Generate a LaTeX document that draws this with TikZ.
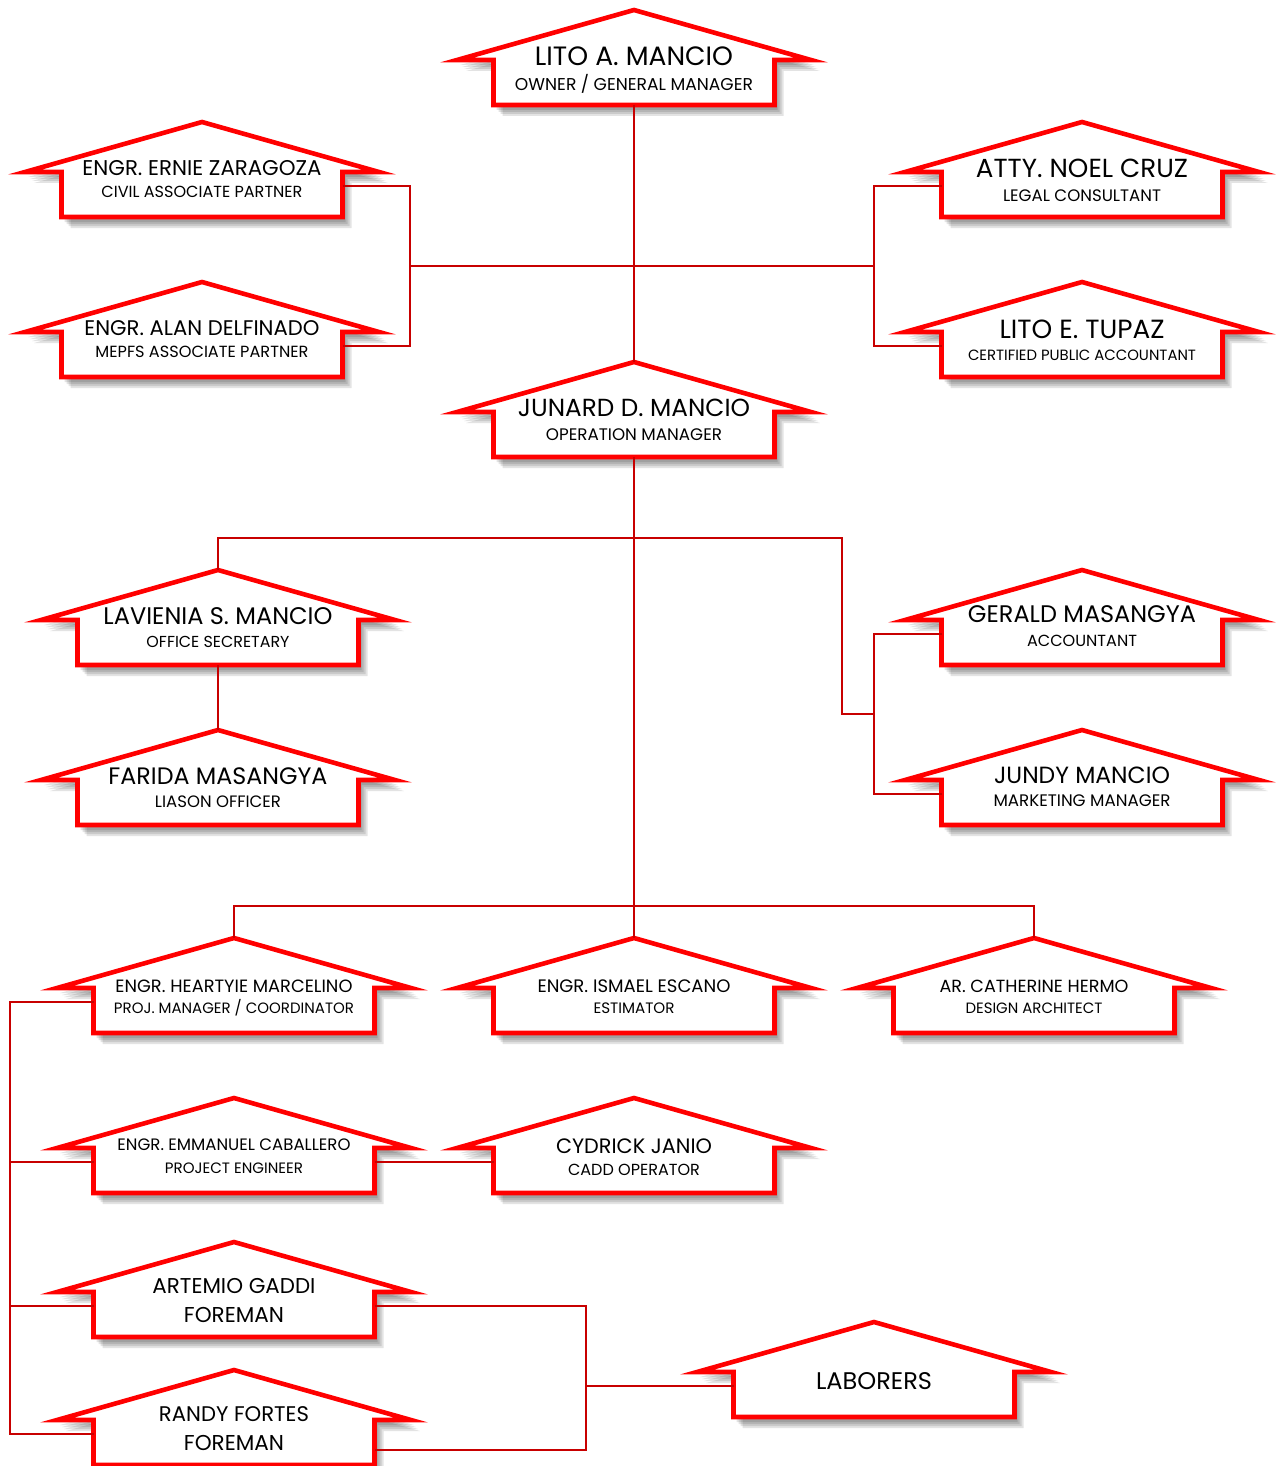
\documentclass[tikz,border=0pt]{standalone}
\usepackage{graphicx}
\usepackage{fontspec}
\setmainfont{Poppins}
\usepackage{tikz}
\definecolor{roofred}{RGB}{255,0,0}
\definecolor{linkred}{RGB}{200,0,0}
\tikzset{
    house/.style={draw=roofred,line width=4.6pt,fill=white,line join=miter,miter limit=12},
    link/.style={draw=linkred,line width=2.4pt},
    lbl/.style={inner sep=0pt,text=black}
}
% id, apex x, apex y
\newcommand\house[3]{
    \foreach \s in {1,2,3,4}
        \fill[black,opacity=0.11] (#2+1+2*\s,#3+3+2*\s) ++(-177,50) -- ++(177,-50) -- ++(177,50)
            -- ++(-36.5,0) -- ++(0,45) -- ++(-281,0) -- ++(0,-45) -- cycle;
    \draw[house] (#2,#3) ++(-177,50) -- ++(177,-50) -- ++(177,50)
        -- ++(-36.5,0) -- ++(0,45) -- ++(-281,0) -- ++(0,-45) -- cycle;
    \coordinate (#1-top) at (#2,#3);
    \coordinate (#1-bot) at (#2,#3+95);
    \coordinate (#1-l)   at (#2-140.5,#3+64);
    \coordinate (#1-r)   at (#2+140.5,#3+64);
}
\newcommand\sized[2]{\resizebox{#1pt}{!}{#2}}

\begin{document}
\begin{tikzpicture}[x=1pt,y=-1pt]
            \useasboundingbox (0,0) rectangle (1283,1466);
            % houses
            \house{lito}{634}{10}
            \house{ernie}{202}{122}
            \house{alan}{202}{282}
            \house{noel}{1082}{122}
            \house{tupaz}{1082}{282}
            \house{junard}{634}{362}
            \house{lavienia}{218}{570}
            \house{farida}{218}{730}
            \house{gerald}{1082}{570}
            \house{jundy}{1082}{730}
            \house{heartyie}{234}{938}
            \house{ismael}{634}{938}
            \house{catherine}{1034}{938}
            \house{emmanuel}{234}{1098}
            \house{cydrick}{634}{1098}
            \house{artemio}{234}{1242}
            \house{randy}{234}{1370}
            \house{laborers}{874}{1322}
            % names and titles
            \node[lbl] (lito)       at (634,56)   {\sized{198}{LITO A. MANCIO}};
            \node[lbl] (lito-t)     at (634,84)   {\sized{238}{OWNER / GENERAL MANAGER}};
            \node[lbl] (ernie)      at (202,168)  {\sized{239}{ENGR. ERNIE ZARAGOZA}};
            \node[lbl] (ernie-t)    at (202,192)  {\sized{201}{CIVIL ASSOCIATE PARTNER}};
            \node[lbl] (alan)       at (202,328)  {\sized{235}{ENGR. ALAN DELFINADO}};
            \node[lbl] (alan-t)     at (202,352)  {\sized{213}{MEPFS ASSOCIATE PARTNER}};
            \node[lbl] (noel)       at (1082,168) {\sized{212}{ATTY. NOEL CRUZ}};
            \node[lbl] (noel-t)     at (1082,196) {\sized{158}{LEGAL CONSULTANT}};
            \node[lbl] (tupaz)      at (1082,329) {\sized{165}{LITO E. TUPAZ}};
            \node[lbl] (tupaz-t)    at (1082,355) {\sized{228}{CERTIFIED PUBLIC ACCOUNTANT}};
            \node[lbl] (junard)     at (634,408)  {\sized{232}{JUNARD D. MANCIO}};
            \node[lbl] (junard-t)   at (634,435)  {\sized{176}{OPERATION MANAGER}};
            \node[lbl] (lavienia)   at (218,616)  {\sized{229}{LAVIENIA S. MANCIO}};
            \node[lbl] (lavienia-t) at (218,642)  {\sized{143}{OFFICE SECRETARY}};
            \node[lbl] (farida)     at (218,776)  {\sized{219}{FARIDA MASANGYA}};
            \node[lbl] (farida-t)   at (218,802)  {\sized{126}{LIASON OFFICER}};
            \node[lbl] (gerald)     at (1082,614) {\sized{228}{GERALD MASANGYA}};
            \node[lbl] (gerald-t)   at (1082,641) {\sized{110}{ACCOUNTANT}};
            \node[lbl] (jundy)      at (1082,775) {\sized{176}{JUNDY MANCIO}};
            \node[lbl] (jundy-t)    at (1082,801) {\sized{177}{MARKETING MANAGER}};
            \node[lbl] (heartyie)   at (234,986)  {\sized{237}{ENGR. HEARTYIE MARCELINO}};
            \node[lbl] (heartyie-t) at (234,1008) {\sized{240}{PROJ. MANAGER / COORDINATOR}};
            \node[lbl] (ismael)     at (634,986)  {\sized{193}{ENGR. ISMAEL ESCANO}};
            \node[lbl] (ismael-t)   at (634,1008) {\sized{81}{ESTIMATOR}};
            \node[lbl] (catherine)  at (1034,986) {\sized{189}{AR. CATHERINE HERMO}};
            \node[lbl] (catherine-t) at (1034,1008) {\sized{137}{DESIGN ARCHITECT}};
            \node[lbl] (emmanuel)   at (234,1145) {\sized{233}{ENGR. EMMANUEL CABALLERO}};
            \node[lbl] (emmanuel-t) at (234,1168) {\sized{138}{PROJECT ENGINEER}};
            \node[lbl] (cydrick)    at (634,1146) {\sized{156}{CYDRICK JANIO}};
            \node[lbl] (cydrick-t)  at (634,1170) {\sized{132}{CADD OPERATOR}};
            \node[lbl] (artemio)    at (234,1286) {\sized{163}{ARTEMIO GADDI}};
            \node[lbl] (artemio-t)  at (234,1315) {\sized{100}{FOREMAN}};
            \node[lbl] (randy)      at (234,1414) {\sized{150}{RANDY FORTES}};
            \node[lbl] (randy-t)    at (234,1443) {\sized{100}{FOREMAN}};
            \node[lbl] (laborers)   at (874,1381) {\sized{116}{LABORERS}};
            % joints
            \coordinate (pl)    at (410,266);
            \coordinate (pr)    at (874,266);
            \coordinate (sec)   at (842,538);
            \coordinate (ac)    at (874,714);
            \coordinate (eng)   at (634,906);
            \coordinate (trunk) at (10,1434);
            \coordinate (fm)    at (586,1386);
            % connectors
            \draw[link] (lito-bot) -- (junard-top);
            \draw[link] (ernie-r) -| (pl) |- (alan-r);
            \draw[link] (pl) -- (pr);
            \draw[link] (noel-l) -| (pr) |- (tupaz-l);
            \draw[link] (junard-bot) -- (ismael-top);
            \draw[link] (lavienia-top) |- (sec) |- (ac);
            \draw[link] (gerald-l) -| (ac) |- (jundy-l);
            \draw[link] (lavienia-bot) -- (farida-top);
            \draw[link] (heartyie-top) |- (eng) -| (catherine-top);
            \draw[link] (heartyie-l) -| (trunk) -- (randy-l);
            \draw[link] (emmanuel-l) -- (emmanuel-l -| trunk);
            \draw[link] (artemio-l) -- (artemio-l -| trunk);
            \draw[link] (emmanuel-r) -- (cydrick-l);
            \draw[link] (artemio-r) -| (fm) |- ([yshift=-16pt]randy-r);
            \draw[link] (fm) -- (laborers-l);
        \end{tikzpicture}
\end{document}
